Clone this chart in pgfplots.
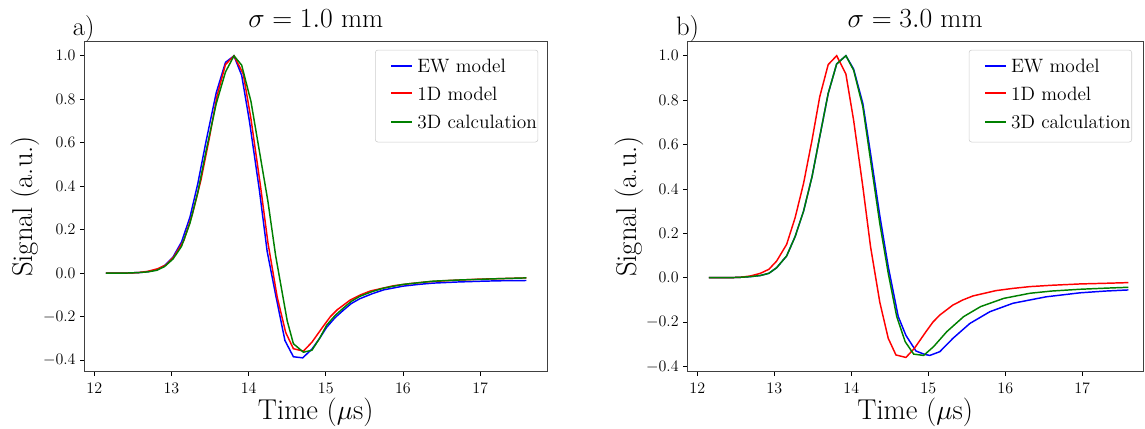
\documentclass[border=0pt]{standalone}
\usepackage{pgfplots}
\pgfplotsset{compat=1.18}
% signals (time in us, normalised signal)
\pgfplotstableread{
t s
12.15 0
12.40 0
12.60 0.003
12.70 0.007
12.81 0.015
12.91 0.035
13.02 0.074
13.13 0.143
13.24 0.258
13.34 0.41
13.45 0.61
13.58 0.83
13.70 0.97
13.81 1.0
13.91 0.91
14.01 0.70
14.14 0.38
14.24 0.10
14.35 -0.10
14.47 -0.31
14.58 -0.385
14.70 -0.39
14.82 -0.35
14.92 -0.30
15.01 -0.25
15.12 -0.205
15.23 -0.17
15.33 -0.14
15.44 -0.118
15.60 -0.095
15.75 -0.077
16.00 -0.06
16.20 -0.052
16.39 -0.046
16.70 -0.041
17.04 -0.037
17.30 -0.035
17.60 -0.034
}\ewA
\pgfplotstableread{
t s
12.15 0
12.40 0
12.56 0.002
12.69 0.008
12.82 0.02
12.93 0.038
13.03 0.075
13.16 0.15
13.27 0.27
13.38 0.425
13.49 0.62
13.59 0.815
13.70 0.96
13.81 1.0
13.93 0.917
14.03 0.71
14.15 0.41
14.25 0.14
14.37 -0.11
14.48 -0.273
14.58 -0.348
14.71 -0.359
14.82 -0.318
14.97 -0.243
15.06 -0.20
15.15 -0.168
15.32 -0.123
15.45 -0.10
15.58 -0.082
15.88 -0.058
16.10 -0.048
16.32 -0.04
16.60 -0.034
16.97 -0.028
17.30 -0.025
17.60 -0.022
}\oneD
\pgfplotstableread{
t s
12.15 0
12.40 0
12.60 0.003
12.70 0.006
12.81 0.013
12.91 0.03
13.02 0.065
13.13 0.123
13.24 0.23
13.34 0.37
13.45 0.565
13.58 0.78
13.70 0.926
13.81 1.0
13.91 0.957
14.03 0.79
14.14 0.56
14.25 0.33
14.35 0.08
14.42 -0.06
14.50 -0.22
14.58 -0.325
14.71 -0.364
14.82 -0.355
14.92 -0.30
15.01 -0.24
15.12 -0.195
15.23 -0.16
15.33 -0.13
15.44 -0.107
15.60 -0.085
15.75 -0.069
16.00 -0.052
16.39 -0.037
16.70 -0.032
17.04 -0.028
17.30 -0.025
17.60 -0.022
}\thrA
\pgfplotstableread{
t s
12.15 0
12.40 0
12.56 0.002
12.69 0.005
12.82 0.01
12.93 0.02
13.03 0.045
13.16 0.098
13.27 0.185
13.38 0.30
13.49 0.455
13.59 0.635
13.70 0.83
13.81 0.963
13.93 1.0
14.03 0.94
14.15 0.785
14.25 0.56
14.37 0.28
14.48 0.05
14.61 -0.175
14.71 -0.26
14.84 -0.33
14.95 -0.345
15.02 -0.35
15.15 -0.333
15.32 -0.273
15.54 -0.206
15.80 -0.153
16.10 -0.115
16.53 -0.086
16.97 -0.068
17.30 -0.06
17.60 -0.055
}\ewB
\pgfplotstableread{
t s
12.15 0
12.40 0
12.56 0.002
12.69 0.005
12.82 0.01
12.93 0.02
13.03 0.045
13.16 0.098
13.27 0.185
13.38 0.30
13.49 0.455
13.59 0.635
13.70 0.83
13.81 0.963
13.93 1.0
14.03 0.935
14.15 0.77
14.25 0.53
14.37 0.245
14.48 0.02
14.59 -0.175
14.70 -0.288
14.81 -0.344
14.94 -0.35
15.07 -0.31
15.24 -0.243
15.46 -0.175
15.68 -0.13
15.98 -0.093
16.32 -0.07
16.60 -0.06
16.97 -0.052
17.30 -0.047
17.60 -0.043
}\thrB
\definecolor{mplblue}{rgb}{0,0,1}
\definecolor{mplred}{rgb}{1,0,0}
\definecolor{mplgreen}{rgb}{0,0.5,0}
\pgfplotsset{
  sigplot/.style={
    scale only axis, height=248pt, anchor=south west, clip=false,
    xmin=11.87,
    xtick={12,13,14,15,16,17},
    ytick={-0.4,-0.2,0,0.2,0.4,0.6,0.8,1.0},
    yticklabel style={/pgf/number format/.cd, fixed, fixed zerofill, precision=1},
    xtick pos=left, ytick pos=left,
    tick align=outside, major tick length=3pt,
    tick style={black, line width=0.6pt},
    axis line style={line width=0.6pt, black!75},
    ticklabel style={font=\fontsize{12}{14}\selectfont},
    xticklabel style={yshift=-2pt},
    label style={font=\fontsize{21.5}{25}\selectfont},
    xlabel={Time ($\mu$s)}, ylabel={Signal (a.u.)},
    xlabel style={at={(axis description cs:0.5,0)}, anchor=base, yshift=-35.5pt},
    ylabel style={at={(axis description cs:-0.112,0.5)}, anchor=base},
    title style={font=\fontsize{20.5}{24}\selectfont, at={(axis description cs:0.5,1)}, anchor=base, yshift=4.3pt},
  }
}
% legend box, drawn by hand from the top right corner of an axis
% (sample lines as filled bars, then the text)
\newcommand{\siglegend}[2]{%
  \begin{scope}[shift={(#1.north east)}, xshift=-#2-122pt, yshift=-6.75pt]
    \draw[draw=black!20, fill=white, rounded corners=2pt] (0pt,0pt) rectangle (122pt,-69pt);
    \fill[mplblue] (11.8pt,-11.25pt) rectangle (27.8pt,-12.75pt);
    \fill[mplred] (11.8pt,-31.75pt) rectangle (27.8pt,-33.25pt);
    \fill[mplgreen] (11.8pt,-53.05pt) rectangle (27.8pt,-54.55pt);
    \begin{scope}[every node/.style={anchor=west, inner sep=0pt, text=black, font=\fontsize{14.5}{17}\selectfont}]
      \node at (31.3pt,-12pt) {EW model};
      \node at (31.3pt,-32.5pt) {1D model};
      \node at (31.3pt,-53.8pt) {3D calculation};
    \end{scope}
  \end{scope}}
\begin{document}%
\begin{tikzpicture}
\begin{axis}[sigplot, name=L, at={(0pt,0pt)}, width=347.25pt, xmax=17.87,
  ymin=-0.454, ymax=1.068, title={$\sigma = 1.0$ mm}]
\addplot[color=mplblue, line width=1.1pt] table[x=t,y=s] {\ewA};
\addplot[color=mplred, line width=1.1pt] table[x=t,y=s] {\oneD};
\addplot[color=mplgreen, line width=1.1pt] table[x=t,y=s] {\thrA};
\node[anchor=base west, font=\fontsize{20}{24}\selectfont, yshift=4.3pt]
  at (axis description cs:-0.035,1) {a)};
\end{axis}
\begin{axis}[sigplot, name=R, at={(452.25pt,0pt)}, width=341.8pt, xmax=17.79,
  ymin=-0.4235, ymax=1.066, title={$\sigma = 3.0$ mm}]
\addplot[color=mplblue, line width=1.1pt] table[x=t,y=s] {\ewB};
\addplot[color=mplred, line width=1.1pt] table[x=t,y=s] {\oneD};
\addplot[color=mplgreen, line width=1.1pt] table[x=t,y=s] {\thrB};
\node[anchor=base west, font=\fontsize{20}{24}\selectfont, yshift=4.3pt]
  at (axis description cs:-0.035,1) {b)};
\end{axis}
\siglegend{L}{7pt}
\siglegend{R}{8.5pt}
\pgfresetboundingbox
\useasboundingbox (-63.2pt,-42.2pt) rectangle (795.5pt,278.8pt);
\end{tikzpicture}%
\end{document}
